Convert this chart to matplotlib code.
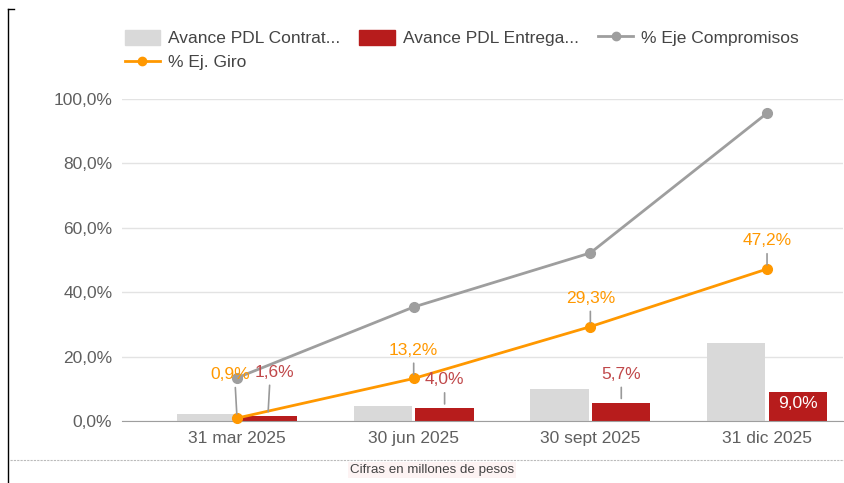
import matplotlib.pyplot as plt
from matplotlib.lines import Line2D
from matplotlib.patches import Patch
import numpy as np

plt.rcParams['font.family'] = ['Liberation Sans', 'DejaVu Sans']

# datos
fechas = ['31 mar 2025', '30 jun 2025', '30 sept 2025', '31 dic 2025']
contratado = [2.2, 4.6, 10.0, 24.2]
entregado = [1.6, 4.0, 5.7, 9.0]
eje_compromisos = [13.4, 35.4, 52.2, 95.6]
ej_giro = [0.9, 13.2, 29.3, 47.2]

c_gris = '#d9d9d9'
c_rojo = '#b71c1c'
c_linea = '#9e9e9e'
c_naranja = '#ff9800'
c_txt = '#5f5f5f'
fs = 12.5

fig = plt.figure(figsize=(8.45, 4.83), dpi=100)
ax = fig.add_axes([122 / 845, 1 - 421 / 483, 721 / 845, (421 - 99) / 483])

x = np.arange(len(fechas))
w = 0.33
ax.bar(x - 0.175, contratado, w, color=c_gris, zorder=2)
ax.bar(x + 0.175, entregado, w, color=c_rojo, zorder=2)
ax.plot(x, eje_compromisos, color=c_linea, lw=2, marker='o', ms=7, zorder=3, clip_on=False)
ax.plot(x, ej_giro, color=c_naranja, lw=2, marker='o', ms=7, zorder=4, clip_on=False)

def fmt(v):
    return ('%.1f%%' % v).replace('.', ',')

def etiqueta(xp, v, color, primero, dx=0):
    off = 26 if primero else 15
    ax.annotate(fmt(v), (xp, v), xytext=(dx, off), textcoords='offset points',
                ha='center', va='bottom', color=color, fontsize=fs, zorder=6,
                arrowprops=dict(arrowstyle='-', color='#999999', lw=1.2,
                                relpos=(0.5 - dx / 40, 0), shrinkA=2, shrinkB=3))

# etiquetas (las dos primeras se separan un poco para que no se pisen)
for i, v in enumerate(ej_giro):
    etiqueta(x[i], v, c_naranja, i == 0, -5 if i == 0 else 0)
for i, v in enumerate(entregado):
    if i == len(entregado) - 1:
        ax.text(x[i] + 0.175, v - 1.3, fmt(v), ha='center', va='top', color='white',
                fontsize=fs, zorder=6)
    else:
        etiqueta(x[i] + 0.175, v, '#c0484a', i == 0, 5 if i == 0 else 0)

ax.set_xlim(-0.651, 3.43)
ax.set_ylim(0, 100)
ax.set_yticks(np.arange(0, 101, 20))
ax.set_yticklabels([fmt(t) for t in np.arange(0, 101, 20)])
ax.set_xticks(x)
ax.set_xticklabels(fechas)
ax.tick_params(length=0, labelsize=fs, colors=c_txt, pad=7)
ax.grid(axis='y', color='#e3e3e3', lw=1, zorder=0)
for s in ['top', 'right', 'left']:
    ax.spines[s].set_visible(False)
ax.spines['bottom'].set_color('#9e9e9e')

handles = [Patch(color=c_gris), Line2D([], [], color=c_naranja, lw=2, marker='o', ms=6),
           Patch(color=c_rojo), Line2D([], [], color=c_linea, lw=2, marker='o', ms=6)]
labels = ['Avance PDL Contrat...', '% Ej. Giro', 'Avance PDL Entrega...', '% Eje Compromisos']
fig.legend(handles, labels, ncol=3, loc='upper left', bbox_to_anchor=(109 / 845, 1 - 14 / 483),
           frameon=False, fontsize=fs, labelcolor='#444444', handlelength=2.05,
           handleheight=0.95, columnspacing=1.1, handletextpad=0.45, labelspacing=0.45)

# pie
fig.add_artist(Line2D([10 / 845, 1], [1 - 460 / 483] * 2, color='#bbbbbb', lw=0.8, ls=(0, (2, 1))))
fig.text(432 / 845, 1 - 470 / 483, 'Cifras en millones de pesos', ha='center', va='center',
         fontsize=9.6, color='#444444', bbox=dict(facecolor='#fdf3f3', edgecolor='none', pad=1.5))
fig.add_artist(Line2D([8 / 845, 8 / 845], [0, 1 - 9 / 483], color='black', lw=1))
fig.add_artist(Line2D([8 / 845, 14 / 845], [1 - 9 / 483] * 2, color='black', lw=1))

fig.savefig('out.png', dpi=100)
